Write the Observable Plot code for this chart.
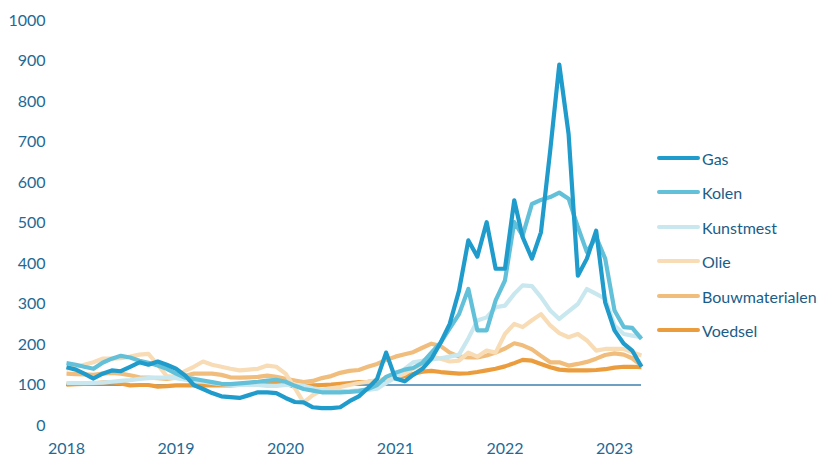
<!DOCTYPE html>
<html>
<head>
<meta charset="utf-8">
<script src="https://cdn.jsdelivr.net/npm/d3@7"></script>
<script src="https://cdn.jsdelivr.net/npm/@observablehq/plot@0.6"></script>
<style>
  html, body { margin: 0; padding: 0; background: #fff; }
  #wrap { position: relative; width: 823px; height: 457px; overflow: hidden; font-family: Lato, "Open Sans", sans-serif; }
  .leg { position: absolute; left: 657px; display: flex; align-items: center; height: 20px; }
  .leg .sw { width: 43px; height: 4px; border-radius: 2px; }
  .leg .lb { margin-left: 2px; font-size: 16px; color: #1b5d88; white-space: nowrap; }
</style>
</head>
<body>
<div id="wrap"></div>
<script>
// Categories
const seriesNames = ["Gas", "Kolen", "Kunstmest", "Olie", "Bouwmaterialen", "Voedsel"];
const seriesColors = ["#1f9bcc", "#63c0d9", "#c9e7ef", "#f8dcb6", "#f0bd7c", "#eb9d3d"];
const yearTicks = [2018, 2019, 2020, 2021, 2022, 2023];
const yTicks = [0, 100, 200, 300, 400, 500, 600, 700, 800, 900, 1000];
const startMonth = "2018-01-01";
const endMonth = "2023-04-01";

// Series values (monthly index, Jan 2018 – Apr 2023)
const gas = [144,138,128,116,128,136,134,145,156,150,158,150,
  140,123,100,90,80,72,70,68,75,82,82,80,
  68,58,57,45,43,43,45,60,72,92,115,180,
  116,109,125,140,165,205,251,333,457,417,502,387,
  387,556,465,412,477,680,891,720,370,412,481,304,
  235,202,185,145];
const kolen = [154,150,145,140,155,165,172,168,160,155,148,140,
  128,118,115,111,107,103,102,104,106,108,111,113,
  108,98,90,86,82,82,82,83,85,90,100,120,
  130,138,142,155,180,205,240,275,337,235,235,309,
  358,502,469,547,557,564,575,560,490,428,465,412,
  284,243,241,214];
const kunstmest = [105,105,105,105,106,108,110,112,115,117,118,118,
  117,113,110,108,105,102,100,100,100,100,98,98,
  100,100,98,92,88,85,85,85,87,88,91,105,
  118,140,156,160,163,166,170,175,215,259,267,292,
  296,325,346,344,317,284,263,282,300,337,325,313,
  247,226,222,218];
const olie = [140,145,150,156,165,165,166,170,175,177,150,122,
  120,135,145,158,150,145,140,136,138,140,148,145,
  128,92,57,75,88,92,95,100,105,108,112,115,
  120,128,140,152,170,165,158,160,180,170,185,180,
  226,251,243,260,275,247,228,218,226,210,185,189,
  189,189,181,173];
const bouwmaterialen = [128,127,126,125,128,130,128,124,119,118,117,115,
  118,123,128,128,128,125,119,118,119,120,123,120,
  115,111,107,110,117,122,130,135,137,145,152,162,
  170,176,181,192,202,196,180,170,168,168,173,180,
  190,203,198,188,172,156,156,148,152,157,165,174,
  178,175,166,148];
const voedsel = [101,102,103,104,106,107,104,99,100,100,96,97,
  99,99,99,99,99,99,99,100,104,105,107,106,
  103,96,97,99,100,101,103,105,107,108,110,113,
  117,122,127,133,135,132,130,128,129,132,136,140,
  146,154,162,160,152,144,138,136,136,136,137,139,
  143,145,145,144];

const months = d3.utcMonth.range(new Date(startMonth), d3.utcMonth.offset(new Date(endMonth), 1));
const valuesByName = {Gas: gas, Kolen: kolen, Kunstmest: kunstmest, Olie: olie, Bouwmaterialen: bouwmaterialen, Voedsel: voedsel};
const rows = name => valuesByName[name].map((v, i) => ({date: months[i], value: v, series: name}));

const axisColor = "#1e6a94";
const drawOrder = ["Voedsel", "Bouwmaterialen", "Olie", "Kunstmest", "Kolen", "Gas"];

const chart = Plot.plot({
  width: 823,
  height: 457,
  marginLeft: 66,
  marginRight: 182,
  marginTop: 20,
  marginBottom: 32,
  style: {fontFamily: "Lato, 'Open Sans', sans-serif", fontSize: "16px", background: "#fff"},
  x: {type: "utc", domain: [new Date(startMonth), new Date(endMonth)]},
  y: {domain: [0, 1000]},
  color: {domain: seriesNames, range: seriesColors},
  marks: [
    Plot.axisY({ticks: yTicks, tickSize: 0, tickPadding: 21, tickFormat: d => String(d), fill: axisColor, label: null, fontSize: 16}),
    Plot.axisX({ticks: yearTicks.map(y => new Date(Date.UTC(y, 0, 1))), tickSize: 0, tickPadding: 17, tickFormat: d3.utcFormat("%Y"), fill: axisColor, label: null, fontSize: 16}),
    Plot.ruleY([100], {stroke: "#3c80ae", strokeWidth: 1.6}),
    ...drawOrder.map(name => Plot.line(rows(name), {x: "date", y: "value", stroke: "series", strokeWidth: 4.2, strokeLinejoin: "round", strokeLinecap: "butt"}))
  ]
});

const wrap = document.getElementById("wrap");
wrap.appendChild(chart);

const legendTops = [158, 192, 227, 261, 296, 330];
seriesNames.forEach((name, i) => {
  const item = document.createElement("div");
  item.className = "leg";
  item.style.top = (legendTops[i] - 10) + "px";
  const sw = document.createElement("div");
  sw.className = "sw";
  sw.style.background = seriesColors[i];
  const lb = document.createElement("div");
  lb.className = "lb";
  lb.textContent = name;
  item.appendChild(sw);
  item.appendChild(lb);
  wrap.appendChild(item);
});
</script>
</body>
</html>
